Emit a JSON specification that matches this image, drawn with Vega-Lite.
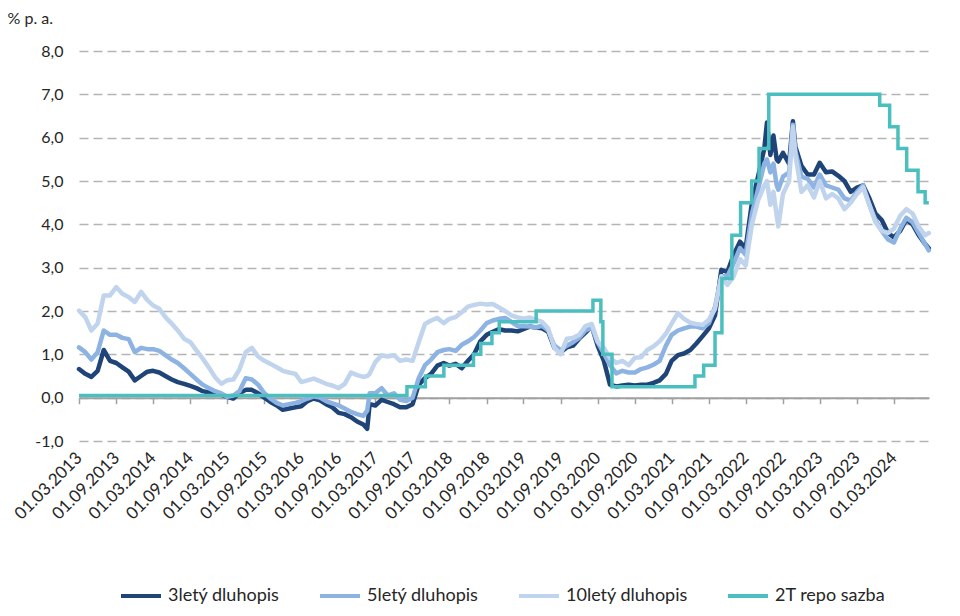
{
  "$schema": "https://vega.github.io/schema/vega-lite/v6.json",
  "autosize": {"type": "none"},
  "width": 850,
  "height": 390,
  "padding": {"left": 79, "top": 51, "right": 31, "bottom": 175},
  "background": "white",
  "config": {
    "view": {"stroke": null},
    "font": "Lato",
    "axis": {"labelFont": "Lato", "titleFont": "Lato", "labelColor": "#262626", "titleColor": "#262626"},
    "legend": {"labelFont": "Lato"}
  },
  "datasets": {
    "bonds": [
      {"d": "2013-03-01", "3letý dluhopis": 0.66, "5letý dluhopis": 1.16, "10letý dluhopis": 2.01},
      {"d": "2013-04-01", "3letý dluhopis": 0.55, "5letý dluhopis": 1.05, "10letý dluhopis": 1.86},
      {"d": "2013-05-01", "3letý dluhopis": 0.48, "5letý dluhopis": 0.88, "10letý dluhopis": 1.55},
      {"d": "2013-06-01", "3letý dluhopis": 0.62, "5letý dluhopis": 1.05, "10letý dluhopis": 1.71},
      {"d": "2013-07-01", "3letý dluhopis": 1.10, "5letý dluhopis": 1.55, "10letý dluhopis": 2.36},
      {"d": "2013-08-01", "3letý dluhopis": 0.85, "5letý dluhopis": 1.45, "10letý dluhopis": 2.36},
      {"d": "2013-09-01", "3letý dluhopis": 0.80, "5letý dluhopis": 1.45, "10letý dluhopis": 2.55},
      {"d": "2013-10-01", "3letý dluhopis": 0.70, "5letý dluhopis": 1.38, "10letý dluhopis": 2.40},
      {"d": "2013-11-01", "3letý dluhopis": 0.60, "5letý dluhopis": 1.35, "10letý dluhopis": 2.32},
      {"d": "2013-12-01", "3letý dluhopis": 0.40, "5letý dluhopis": 1.05, "10letý dluhopis": 2.21},
      {"d": "2014-01-01", "3letý dluhopis": 0.50, "5letý dluhopis": 1.15, "10letý dluhopis": 2.44},
      {"d": "2014-02-01", "3letý dluhopis": 0.60, "5letý dluhopis": 1.12, "10letý dluhopis": 2.25},
      {"d": "2014-03-01", "3letý dluhopis": 0.62, "5letý dluhopis": 1.12, "10letý dluhopis": 2.13},
      {"d": "2014-04-01", "3letý dluhopis": 0.58, "5letý dluhopis": 1.08, "10letý dluhopis": 2.05},
      {"d": "2014-05-01", "3letý dluhopis": 0.50, "5letý dluhopis": 0.98, "10letý dluhopis": 1.86},
      {"d": "2014-06-01", "3letý dluhopis": 0.42, "5letý dluhopis": 0.88, "10letý dluhopis": 1.71},
      {"d": "2014-07-01", "3letý dluhopis": 0.36, "5letý dluhopis": 0.80, "10letý dluhopis": 1.55},
      {"d": "2014-08-01", "3letý dluhopis": 0.32, "5letý dluhopis": 0.68, "10letý dluhopis": 1.36},
      {"d": "2014-09-01", "3letý dluhopis": 0.27, "5letý dluhopis": 0.55, "10letý dluhopis": 1.28},
      {"d": "2014-10-01", "3letý dluhopis": 0.22, "5letý dluhopis": 0.42, "10letý dluhopis": 1.09},
      {"d": "2014-11-01", "3letý dluhopis": 0.15, "5letý dluhopis": 0.30, "10letý dluhopis": 0.90},
      {"d": "2014-12-01", "3letý dluhopis": 0.12, "5letý dluhopis": 0.22, "10letý dluhopis": 0.70},
      {"d": "2015-01-01", "3letý dluhopis": 0.10, "5letý dluhopis": 0.15, "10letý dluhopis": 0.47},
      {"d": "2015-02-01", "3letý dluhopis": 0.07, "5letý dluhopis": 0.10, "10letý dluhopis": 0.32},
      {"d": "2015-03-01", "3letý dluhopis": 0.02, "5letý dluhopis": 0.02, "10letý dluhopis": 0.40},
      {"d": "2015-04-01", "3letý dluhopis": -0.02, "5letý dluhopis": 0.05, "10letý dluhopis": 0.42},
      {"d": "2015-05-01", "3letý dluhopis": 0.10, "5letý dluhopis": 0.15, "10letý dluhopis": 0.65},
      {"d": "2015-06-01", "3letý dluhopis": 0.18, "5letý dluhopis": 0.45, "10letý dluhopis": 1.05},
      {"d": "2015-07-01", "3letý dluhopis": 0.18, "5letý dluhopis": 0.42, "10letý dluhopis": 1.15},
      {"d": "2015-08-01", "3letý dluhopis": 0.10, "5letý dluhopis": 0.30, "10letý dluhopis": 0.95},
      {"d": "2015-09-01", "3letý dluhopis": 0.00, "5letý dluhopis": 0.10, "10letý dluhopis": 0.85},
      {"d": "2015-10-01", "3letý dluhopis": -0.10, "5letý dluhopis": -0.02, "10letý dluhopis": 0.78},
      {"d": "2015-11-01", "3letý dluhopis": -0.18, "5letý dluhopis": -0.12, "10letý dluhopis": 0.70},
      {"d": "2015-12-01", "3letý dluhopis": -0.28, "5letý dluhopis": -0.18, "10letý dluhopis": 0.62},
      {"d": "2016-01-01", "3letý dluhopis": -0.25, "5letý dluhopis": -0.15, "10letý dluhopis": 0.58},
      {"d": "2016-02-01", "3letý dluhopis": -0.22, "5letý dluhopis": -0.12, "10letý dluhopis": 0.55},
      {"d": "2016-03-01", "3letý dluhopis": -0.20, "5letý dluhopis": -0.08, "10letý dluhopis": 0.36},
      {"d": "2016-04-01", "3letý dluhopis": -0.08, "5letý dluhopis": -0.02, "10letý dluhopis": 0.40},
      {"d": "2016-05-01", "3letý dluhopis": -0.02, "5letý dluhopis": 0.03, "10letý dluhopis": 0.44},
      {"d": "2016-06-01", "3letý dluhopis": -0.06, "5letý dluhopis": 0.00, "10letý dluhopis": 0.38},
      {"d": "2016-07-01", "3letý dluhopis": -0.15, "5letý dluhopis": -0.08, "10letý dluhopis": 0.32},
      {"d": "2016-08-01", "3letý dluhopis": -0.22, "5letý dluhopis": -0.13, "10letý dluhopis": 0.28},
      {"d": "2016-09-01", "3letý dluhopis": -0.35, "5letý dluhopis": -0.18, "10letý dluhopis": 0.22},
      {"d": "2016-10-01", "3letý dluhopis": -0.38, "5letý dluhopis": -0.25, "10letý dluhopis": 0.32},
      {"d": "2016-11-01", "3letý dluhopis": -0.45, "5letý dluhopis": -0.33, "10letý dluhopis": 0.58},
      {"d": "2016-12-01", "3letý dluhopis": -0.55, "5letý dluhopis": -0.38, "10letý dluhopis": 0.52},
      {"d": "2017-01-01", "3letý dluhopis": -0.62, "5letý dluhopis": -0.42, "10letý dluhopis": 0.48},
      {"d": "2017-01-20", "3letý dluhopis": -0.72, "5letý dluhopis": -0.30, "10letý dluhopis": 0.50},
      {"d": "2017-02-01", "3letý dluhopis": -0.15, "5letý dluhopis": 0.10, "10letý dluhopis": 0.55},
      {"d": "2017-03-01", "3letý dluhopis": -0.18, "5letý dluhopis": 0.10, "10letý dluhopis": 0.82},
      {"d": "2017-04-01", "3letý dluhopis": -0.05, "5letý dluhopis": 0.22, "10letý dluhopis": 0.98},
      {"d": "2017-05-01", "3letý dluhopis": -0.10, "5letý dluhopis": 0.05, "10letý dluhopis": 0.95},
      {"d": "2017-06-01", "3letý dluhopis": -0.15, "5letý dluhopis": 0.10, "10letý dluhopis": 0.98},
      {"d": "2017-07-01", "3letý dluhopis": -0.22, "5letý dluhopis": -0.05, "10letý dluhopis": 0.85},
      {"d": "2017-08-01", "3letý dluhopis": -0.22, "5letý dluhopis": -0.08, "10letý dluhopis": 0.88},
      {"d": "2017-09-01", "3letý dluhopis": -0.15, "5letý dluhopis": 0.00, "10letý dluhopis": 0.85},
      {"d": "2017-10-01", "3letý dluhopis": 0.30, "5letý dluhopis": 0.45, "10letý dluhopis": 1.28},
      {"d": "2017-11-01", "3letý dluhopis": 0.45, "5letý dluhopis": 0.75, "10letý dluhopis": 1.70},
      {"d": "2017-12-01", "3letý dluhopis": 0.55, "5letý dluhopis": 0.88, "10letý dluhopis": 1.78},
      {"d": "2018-01-01", "3letý dluhopis": 0.74, "5letý dluhopis": 1.05, "10letý dluhopis": 1.84},
      {"d": "2018-02-01", "3letý dluhopis": 0.80, "5letý dluhopis": 1.10, "10letý dluhopis": 1.72},
      {"d": "2018-03-01", "3letý dluhopis": 0.74, "5letý dluhopis": 1.12, "10letý dluhopis": 1.82},
      {"d": "2018-04-01", "3letý dluhopis": 0.78, "5letý dluhopis": 1.08, "10letý dluhopis": 1.86},
      {"d": "2018-05-01", "3letý dluhopis": 0.68, "5letý dluhopis": 1.22, "10letý dluhopis": 1.97},
      {"d": "2018-06-01", "3letý dluhopis": 0.85, "5letý dluhopis": 1.30, "10letý dluhopis": 2.10},
      {"d": "2018-07-01", "3letý dluhopis": 1.00, "5letý dluhopis": 1.40, "10letý dluhopis": 2.14},
      {"d": "2018-08-01", "3letý dluhopis": 1.30, "5letý dluhopis": 1.55, "10letý dluhopis": 2.17},
      {"d": "2018-09-01", "3letý dluhopis": 1.45, "5letý dluhopis": 1.72, "10letý dluhopis": 2.15},
      {"d": "2018-10-01", "3letý dluhopis": 1.52, "5letý dluhopis": 1.78, "10letý dluhopis": 2.16},
      {"d": "2018-11-01", "3letý dluhopis": 1.58, "5letý dluhopis": 1.82, "10letý dluhopis": 2.08},
      {"d": "2018-12-01", "3letý dluhopis": 1.55, "5letý dluhopis": 1.84, "10letý dluhopis": 2.00},
      {"d": "2019-01-01", "3letý dluhopis": 1.55, "5letý dluhopis": 1.75, "10letý dluhopis": 1.90},
      {"d": "2019-02-01", "3letý dluhopis": 1.53, "5letý dluhopis": 1.65, "10letý dluhopis": 1.85},
      {"d": "2019-03-01", "3letý dluhopis": 1.58, "5letý dluhopis": 1.65, "10letý dluhopis": 1.82},
      {"d": "2019-04-01", "3letý dluhopis": 1.64, "5letý dluhopis": 1.64, "10letý dluhopis": 1.85},
      {"d": "2019-05-01", "3letý dluhopis": 1.62, "5letý dluhopis": 1.62, "10letý dluhopis": 1.80},
      {"d": "2019-06-01", "3letý dluhopis": 1.60, "5letý dluhopis": 1.66, "10letý dluhopis": 1.75},
      {"d": "2019-07-01", "3letý dluhopis": 1.52, "5letý dluhopis": 1.55, "10letý dluhopis": 1.60},
      {"d": "2019-08-01", "3letý dluhopis": 1.15, "5letý dluhopis": 1.20, "10letý dluhopis": 1.15},
      {"d": "2019-09-01", "3letý dluhopis": 1.05, "5letý dluhopis": 1.10, "10letý dluhopis": 1.00},
      {"d": "2019-10-01", "3letý dluhopis": 1.16, "5letý dluhopis": 1.20, "10letý dluhopis": 1.36},
      {"d": "2019-11-01", "3letý dluhopis": 1.20, "5letý dluhopis": 1.28, "10letý dluhopis": 1.38},
      {"d": "2019-12-01", "3letý dluhopis": 1.36, "5letý dluhopis": 1.38, "10letý dluhopis": 1.45},
      {"d": "2020-01-01", "3letý dluhopis": 1.50, "5letý dluhopis": 1.55, "10letý dluhopis": 1.65},
      {"d": "2020-02-01", "3letý dluhopis": 1.65, "5letý dluhopis": 1.62, "10letý dluhopis": 1.70},
      {"d": "2020-03-01", "3letý dluhopis": 1.20, "5letý dluhopis": 1.28, "10letý dluhopis": 1.30},
      {"d": "2020-04-01", "3letý dluhopis": 0.85, "5letý dluhopis": 1.02, "10letý dluhopis": 1.15},
      {"d": "2020-05-01", "3letý dluhopis": 0.30, "5letý dluhopis": 0.75, "10letý dluhopis": 0.92},
      {"d": "2020-06-01", "3letý dluhopis": 0.26, "5letý dluhopis": 0.56, "10letý dluhopis": 0.80},
      {"d": "2020-07-01", "3letý dluhopis": 0.28, "5letý dluhopis": 0.62, "10letý dluhopis": 0.85},
      {"d": "2020-08-01", "3letý dluhopis": 0.30, "5letý dluhopis": 0.58, "10letý dluhopis": 0.75},
      {"d": "2020-09-01", "3letý dluhopis": 0.28, "5letý dluhopis": 0.58, "10letý dluhopis": 0.92},
      {"d": "2020-10-01", "3letý dluhopis": 0.30, "5letý dluhopis": 0.66, "10letý dluhopis": 0.93},
      {"d": "2020-11-01", "3letý dluhopis": 0.30, "5letý dluhopis": 0.70, "10letý dluhopis": 1.10},
      {"d": "2020-12-01", "3letý dluhopis": 0.34, "5letý dluhopis": 0.76, "10letý dluhopis": 1.18},
      {"d": "2021-01-01", "3letý dluhopis": 0.40, "5letý dluhopis": 0.85, "10letý dluhopis": 1.30},
      {"d": "2021-02-01", "3letý dluhopis": 0.55, "5letý dluhopis": 1.20, "10letý dluhopis": 1.48},
      {"d": "2021-03-01", "3letý dluhopis": 0.85, "5letý dluhopis": 1.45, "10letý dluhopis": 1.71},
      {"d": "2021-04-01", "3letý dluhopis": 0.98, "5letý dluhopis": 1.55, "10letý dluhopis": 1.95},
      {"d": "2021-05-01", "3letý dluhopis": 1.02, "5letý dluhopis": 1.60, "10letý dluhopis": 1.82},
      {"d": "2021-06-01", "3letý dluhopis": 1.10, "5letý dluhopis": 1.64, "10letý dluhopis": 1.73},
      {"d": "2021-07-01", "3letý dluhopis": 1.25, "5letý dluhopis": 1.64, "10letý dluhopis": 1.70},
      {"d": "2021-08-01", "3letý dluhopis": 1.42, "5letý dluhopis": 1.60, "10letý dluhopis": 1.68},
      {"d": "2021-09-01", "3letý dluhopis": 1.60, "5letý dluhopis": 1.72, "10letý dluhopis": 1.80},
      {"d": "2021-10-01", "3letý dluhopis": 1.90, "5letý dluhopis": 2.10, "10letý dluhopis": 2.05},
      {"d": "2021-11-01", "3letý dluhopis": 2.95, "5letý dluhopis": 2.80, "10letý dluhopis": 2.80},
      {"d": "2021-12-01", "3letý dluhopis": 2.90, "5letý dluhopis": 2.80, "10letý dluhopis": 2.60},
      {"d": "2022-01-01", "3letý dluhopis": 3.30, "5letý dluhopis": 3.10, "10letý dluhopis": 2.80},
      {"d": "2022-02-01", "3letý dluhopis": 3.60, "5letý dluhopis": 3.45, "10letý dluhopis": 3.20},
      {"d": "2022-03-01", "3letý dluhopis": 3.45, "5letý dluhopis": 3.30, "10letý dluhopis": 3.05},
      {"d": "2022-04-01", "3letý dluhopis": 4.50, "5letý dluhopis": 4.25, "10letý dluhopis": 4.00},
      {"d": "2022-05-01", "3letý dluhopis": 5.10, "5letý dluhopis": 4.80, "10letý dluhopis": 4.55},
      {"d": "2022-06-01", "3letý dluhopis": 5.75, "5letý dluhopis": 5.40, "10letý dluhopis": 4.90},
      {"d": "2022-06-14", "3letý dluhopis": 6.35, "5letý dluhopis": 5.50, "10letý dluhopis": 5.00},
      {"d": "2022-07-01", "3letý dluhopis": 5.60, "5letý dluhopis": 5.20, "10letý dluhopis": 4.45},
      {"d": "2022-07-16", "3letý dluhopis": 6.05, "5letý dluhopis": 5.40, "10letý dluhopis": 4.75},
      {"d": "2022-08-01", "3letý dluhopis": 5.50, "5letý dluhopis": 4.90, "10letý dluhopis": 4.20},
      {"d": "2022-08-09", "3letý dluhopis": 5.45, "5letý dluhopis": 4.80, "10letý dluhopis": 3.95},
      {"d": "2022-09-01", "3letý dluhopis": 5.65, "5letý dluhopis": 5.10, "10letý dluhopis": 4.70},
      {"d": "2022-10-01", "3letý dluhopis": 5.40, "5letý dluhopis": 5.20, "10letý dluhopis": 5.00},
      {"d": "2022-10-20", "3letý dluhopis": 6.38, "5letý dluhopis": 6.30, "10letý dluhopis": 6.25},
      {"d": "2022-11-01", "3letý dluhopis": 5.80, "5letý dluhopis": 5.70, "10letý dluhopis": 5.60},
      {"d": "2022-12-01", "3letý dluhopis": 5.35, "5letý dluhopis": 5.10, "10letý dluhopis": 4.75},
      {"d": "2023-01-01", "3letý dluhopis": 5.15, "5letý dluhopis": 5.05, "10letý dluhopis": 4.90},
      {"d": "2023-02-01", "3letý dluhopis": 5.15, "5letý dluhopis": 4.85, "10letý dluhopis": 4.62},
      {"d": "2023-03-01", "3letý dluhopis": 5.42, "5letý dluhopis": 5.15, "10letý dluhopis": 5.00},
      {"d": "2023-04-01", "3letý dluhopis": 5.20, "5letý dluhopis": 4.90, "10letý dluhopis": 4.60},
      {"d": "2023-05-01", "3letý dluhopis": 5.22, "5letý dluhopis": 4.85, "10letý dluhopis": 4.70},
      {"d": "2023-06-01", "3letý dluhopis": 5.12, "5letý dluhopis": 4.80, "10letý dluhopis": 4.60},
      {"d": "2023-07-01", "3letý dluhopis": 5.00, "5letý dluhopis": 4.60, "10letý dluhopis": 4.35},
      {"d": "2023-08-01", "3letý dluhopis": 4.75, "5letý dluhopis": 4.55, "10letý dluhopis": 4.50},
      {"d": "2023-09-01", "3letý dluhopis": 4.85, "5letý dluhopis": 4.75, "10letý dluhopis": 4.70},
      {"d": "2023-10-01", "3letý dluhopis": 4.90, "5letý dluhopis": 4.90, "10letý dluhopis": 4.85},
      {"d": "2023-11-01", "3letý dluhopis": 4.60, "5letý dluhopis": 4.45, "10letý dluhopis": 4.45},
      {"d": "2023-12-01", "3letý dluhopis": 4.25, "5letý dluhopis": 4.10, "10letý dluhopis": 4.05},
      {"d": "2024-01-01", "3letý dluhopis": 4.10, "5letý dluhopis": 3.85, "10letý dluhopis": 3.85},
      {"d": "2024-02-01", "3letý dluhopis": 3.80, "5letý dluhopis": 3.65, "10letý dluhopis": 3.80},
      {"d": "2024-03-01", "3letý dluhopis": 3.70, "5letý dluhopis": 3.58, "10letý dluhopis": 3.90},
      {"d": "2024-04-01", "3letý dluhopis": 3.85, "5letý dluhopis": 3.90, "10letý dluhopis": 4.20},
      {"d": "2024-05-01", "3letý dluhopis": 4.10, "5letý dluhopis": 4.15, "10letý dluhopis": 4.35},
      {"d": "2024-06-01", "3letý dluhopis": 4.00, "5letý dluhopis": 4.05, "10letý dluhopis": 4.25},
      {"d": "2024-07-01", "3letý dluhopis": 3.75, "5letý dluhopis": 3.80, "10letý dluhopis": 3.95},
      {"d": "2024-08-01", "3letý dluhopis": 3.55, "5letý dluhopis": 3.55, "10letý dluhopis": 3.75},
      {"d": "2024-08-20", "3letý dluhopis": 3.45, "5letý dluhopis": 3.40, "10letý dluhopis": 3.80}
    ],
    "repo": [
      {"d": "2013-03-01", "series": "2T repo sazba", "value": 0.05},
      {"d": "2017-08-04", "series": "2T repo sazba", "value": 0.25},
      {"d": "2017-11-03", "series": "2T repo sazba", "value": 0.50},
      {"d": "2018-02-02", "series": "2T repo sazba", "value": 0.75},
      {"d": "2018-06-28", "series": "2T repo sazba", "value": 1.00},
      {"d": "2018-08-03", "series": "2T repo sazba", "value": 1.25},
      {"d": "2018-09-27", "series": "2T repo sazba", "value": 1.50},
      {"d": "2018-11-02", "series": "2T repo sazba", "value": 1.75},
      {"d": "2019-05-03", "series": "2T repo sazba", "value": 2.00},
      {"d": "2020-02-07", "series": "2T repo sazba", "value": 2.25},
      {"d": "2020-03-17", "series": "2T repo sazba", "value": 1.75},
      {"d": "2020-03-27", "series": "2T repo sazba", "value": 1.00},
      {"d": "2020-05-11", "series": "2T repo sazba", "value": 0.25},
      {"d": "2021-06-24", "series": "2T repo sazba", "value": 0.50},
      {"d": "2021-08-06", "series": "2T repo sazba", "value": 0.75},
      {"d": "2021-10-01", "series": "2T repo sazba", "value": 1.50},
      {"d": "2021-11-04", "series": "2T repo sazba", "value": 2.75},
      {"d": "2021-12-23", "series": "2T repo sazba", "value": 3.75},
      {"d": "2022-02-04", "series": "2T repo sazba", "value": 4.50},
      {"d": "2022-03-31", "series": "2T repo sazba", "value": 5.00},
      {"d": "2022-05-06", "series": "2T repo sazba", "value": 5.75},
      {"d": "2022-06-23", "series": "2T repo sazba", "value": 7.00},
      {"d": "2023-12-22", "series": "2T repo sazba", "value": 6.75},
      {"d": "2024-02-09", "series": "2T repo sazba", "value": 6.25},
      {"d": "2024-03-21", "series": "2T repo sazba", "value": 5.75},
      {"d": "2024-05-03", "series": "2T repo sazba", "value": 5.25},
      {"d": "2024-06-28", "series": "2T repo sazba", "value": 4.75},
      {"d": "2024-08-02", "series": "2T repo sazba", "value": 4.50},
      {"d": "2024-08-20", "series": "2T repo sazba", "value": 4.50}
    ]
  },
  "resolve": {"axis": {"x": "independent"}},
  "layer": [
    {
      "data": {"name": "bonds"},
      "transform": [
        {"fold": ["3letý dluhopis", "5letý dluhopis", "10letý dluhopis"], "as": ["series", "value"]}
      ],
      "encoding": {
        "x": {
          "field": "d",
          "type": "temporal",
          "scale": {
            "type": "utc",
            "domain": [
              {"year": 2013, "month": 3, "date": 1, "utc": true},
              {"year": 2024, "month": 8, "date": 21, "utc": true}
            ]
          },
          "axis": {
            "orient": "bottom",
            "title": null,
            "labelExpr": "utcFormat(datum.value, '%d.%m.%Y')",
            "values": [
              {"year": 2013, "month": 3, "date": 1, "utc": true},
              {"year": 2013, "month": 9, "date": 1, "utc": true},
              {"year": 2014, "month": 3, "date": 1, "utc": true},
              {"year": 2014, "month": 9, "date": 1, "utc": true},
              {"year": 2015, "month": 3, "date": 1, "utc": true},
              {"year": 2015, "month": 9, "date": 1, "utc": true},
              {"year": 2016, "month": 3, "date": 1, "utc": true},
              {"year": 2016, "month": 9, "date": 1, "utc": true},
              {"year": 2017, "month": 3, "date": 1, "utc": true},
              {"year": 2017, "month": 9, "date": 1, "utc": true},
              {"year": 2018, "month": 3, "date": 1, "utc": true},
              {"year": 2018, "month": 9, "date": 1, "utc": true},
              {"year": 2019, "month": 3, "date": 1, "utc": true},
              {"year": 2019, "month": 9, "date": 1, "utc": true},
              {"year": 2020, "month": 3, "date": 1, "utc": true},
              {"year": 2020, "month": 9, "date": 1, "utc": true},
              {"year": 2021, "month": 3, "date": 1, "utc": true},
              {"year": 2021, "month": 9, "date": 1, "utc": true},
              {"year": 2022, "month": 3, "date": 1, "utc": true},
              {"year": 2022, "month": 9, "date": 1, "utc": true},
              {"year": 2023, "month": 3, "date": 1, "utc": true},
              {"year": 2023, "month": 9, "date": 1, "utc": true},
              {"year": 2024, "month": 3, "date": 1, "utc": true}
            ],
            "labelAngle": -45,
            "labelAlign": "right",
            "labelBaseline": "middle",
            "labelFontSize": 17,
            "labelPadding": 14,
            "labelOverlap": false,
            "labelFlush": false,
            "ticks": false,
            "domain": false,
            "grid": false
          }
        },
        "y": {
          "field": "value",
          "type": "quantitative",
          "scale": {"domain": [-1, 8], "nice": false, "zero": false},
          "axis": {
            "title": "% p. a.",
            "titleAngle": 0,
            "titleAlign": "left",
            "titleBaseline": "middle",
            "titleX": -72,
            "titleY": -33,
            "titleFontSize": 16,
            "titleFontWeight": "normal",
            "values": [-1, 0, 1, 2, 3, 4, 5, 6, 7, 8],
            "labelExpr": "replace(replace(format(datum.value, '.1f'), '.', ','), '\u2212', '-')",
            "labelFontSize": 16,
            "labelPadding": 16,
            "ticks": false,
            "domain": false,
            "grid": true,
            "gridColor": "#b4b4b4",
            "gridWidth": 1.5,
            "gridDash": [9, 5]
          }
        },
        "color": {
          "field": "series",
          "type": "nominal",
          "scale": {
            "domain": ["3letý dluhopis", "5letý dluhopis", "10letý dluhopis", "2T repo sazba"],
            "range": ["#1e4478", "#8db3e2", "#c0d4ed", "#4bbfc0"]
          },
          "legend": {
            "title": null,
            "orient": "none",
            "direction": "horizontal",
            "legendX": 40,
            "legendY": 523,
            "padding": 0,
            "symbolType": "stroke",
            "symbolSize": 1600,
            "symbolStrokeWidth": 4,
            "labelFontSize": 18,
            "labelColor": "#262626",
            "labelOffset": 5,
            "columnPadding": 32
          }
        }
      },
      "layer": [
        {
          "transform": [{"filter": "datum.series === '3letý dluhopis'"}],
          "mark": {"type": "line", "strokeWidth": 4.5, "strokeJoin": "round", "strokeCap": "round"}
        },
        {
          "transform": [{"filter": "datum.series === '5letý dluhopis'"}],
          "mark": {"type": "line", "strokeWidth": 4.5, "strokeJoin": "round", "strokeCap": "round"}
        },
        {
          "transform": [{"filter": "datum.series === '10letý dluhopis'"}],
          "mark": {"type": "line", "strokeWidth": 4.5, "strokeJoin": "round", "strokeCap": "round"}
        }
      ]
    },
    {
      "data": {"name": "repo"},
      "mark": {"type": "line", "interpolate": "step-after", "strokeWidth": 3.5},
      "encoding": {
        "x": {
          "field": "d",
          "type": "temporal",
          "axis": {
            "orient": "bottom",
            "title": null,
            "offset": -43.3,
            "labels": false,
            "ticks": true,
            "tickSize": 6,
            "tickWidth": 1.5,
            "tickColor": "#a0a0a0",
            "domain": true,
            "domainColor": "#a0a0a0",
            "domainWidth": 2,
            "grid": false,
            "values": [
              {"year": 2013, "month": 3, "date": 1, "utc": true},
              {"year": 2013, "month": 9, "date": 1, "utc": true},
              {"year": 2014, "month": 3, "date": 1, "utc": true},
              {"year": 2014, "month": 9, "date": 1, "utc": true},
              {"year": 2015, "month": 3, "date": 1, "utc": true},
              {"year": 2015, "month": 9, "date": 1, "utc": true},
              {"year": 2016, "month": 3, "date": 1, "utc": true},
              {"year": 2016, "month": 9, "date": 1, "utc": true},
              {"year": 2017, "month": 3, "date": 1, "utc": true},
              {"year": 2017, "month": 9, "date": 1, "utc": true},
              {"year": 2018, "month": 3, "date": 1, "utc": true},
              {"year": 2018, "month": 9, "date": 1, "utc": true},
              {"year": 2019, "month": 3, "date": 1, "utc": true},
              {"year": 2019, "month": 9, "date": 1, "utc": true},
              {"year": 2020, "month": 3, "date": 1, "utc": true},
              {"year": 2020, "month": 9, "date": 1, "utc": true},
              {"year": 2021, "month": 3, "date": 1, "utc": true},
              {"year": 2021, "month": 9, "date": 1, "utc": true},
              {"year": 2022, "month": 3, "date": 1, "utc": true},
              {"year": 2022, "month": 9, "date": 1, "utc": true},
              {"year": 2023, "month": 3, "date": 1, "utc": true},
              {"year": 2023, "month": 9, "date": 1, "utc": true},
              {"year": 2024, "month": 3, "date": 1, "utc": true}
            ]
          }
        },
        "y": {"field": "value", "type": "quantitative"},
        "color": {"field": "series", "type": "nominal"}
      }
    }
  ]
}
